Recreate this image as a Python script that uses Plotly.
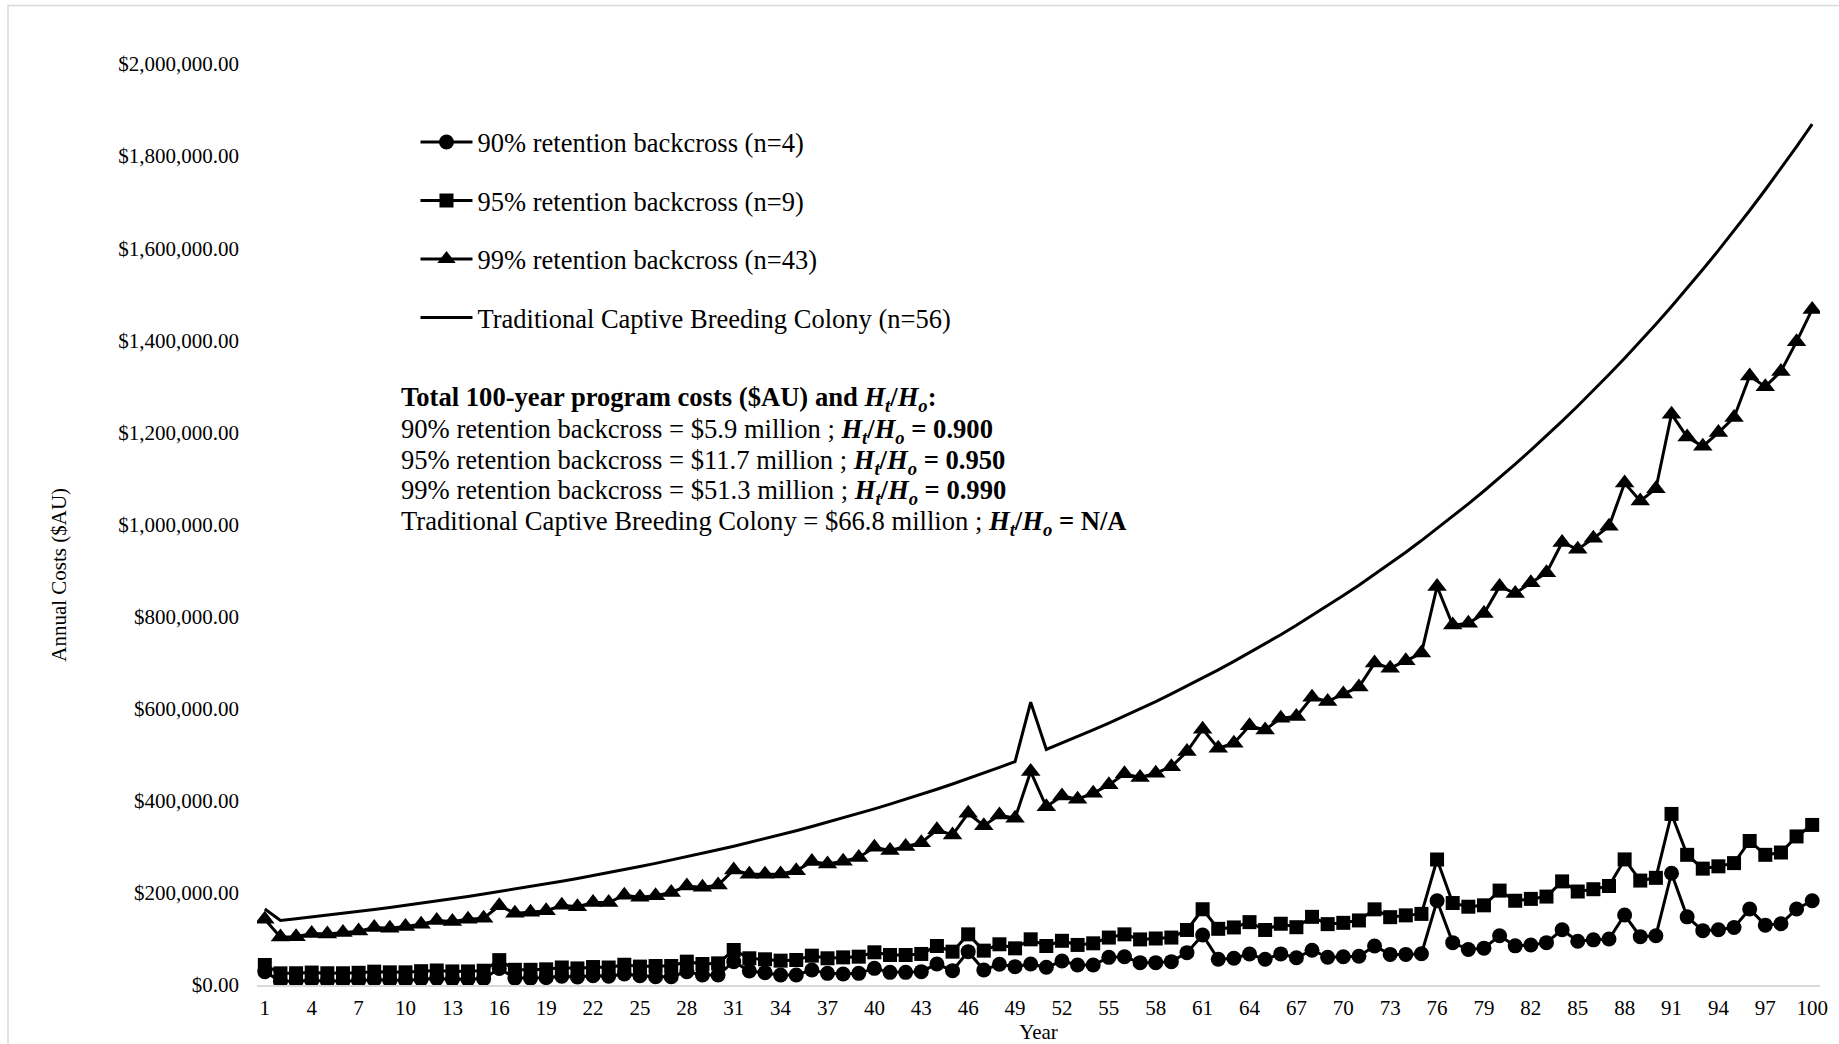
import plotly.graph_objects as go

# Program year (category axis)
years = list(range(1, 101))

# Annual cost per program (AUD)
cost_90 = [
    29000, 8000, 8500, 10000, 8500, 8500, 9500, 11500, 10000, 10000,
    12500, 14000, 12000, 12000, 13500, 36000, 15000, 15000, 16000, 19000,
    17500, 20000, 19000, 24000, 20000, 18000, 18000, 29000, 21700, 21700,
    50700, 30400, 26800, 21700, 21700, 32600, 25300, 23900, 25300, 36200,
    27500, 27500, 29000, 45600, 31200, 72400, 32600, 44900, 39800, 45600,
    38400, 52100, 43500, 43500, 60000, 61500, 48500, 48500, 50700, 70300,
    108600, 55800, 58000, 67400, 55800, 67500, 59200, 75600, 60200, 61200,
    62400, 84600, 66400, 66400, 67700, 183000, 92000, 77000, 80000, 107000,
    85000, 87000, 92000, 120000, 95000, 98000, 100000, 152000, 105000, 107000,
    242700, 148000, 118000, 120000, 125000, 165000, 130000, 133000, 165000, 183000,
]

cost_95 = [
    43500, 25300, 25500, 27000, 25500, 25500, 26500, 29000, 27500, 27500,
    30000, 31500, 29500, 29500, 31000, 54000, 33000, 33000, 34000, 38000,
    36000, 39000, 38000, 44000, 40000, 41300, 41300, 50700, 45600, 47000,
    76000, 58000, 55800, 52900, 54300, 63700, 58000, 60000, 61500, 71000,
    65200, 65200, 67400, 84700, 72400, 110000, 74600, 88400, 79600, 99200,
    84700, 96000, 87000, 90500, 103000, 110000, 99000, 101000, 103000, 119500,
    164500, 122000, 125000, 136500, 119500, 133000, 125500, 148000, 132200, 135000,
    140200, 164300, 147300, 151200, 154400, 272500, 178000, 170000, 173000, 205000,
    183000, 187000, 192000, 225000, 203000, 208000, 215000, 272700, 226800, 232700,
    371500, 282700, 252700, 257700, 264700, 312700, 282700, 287700, 322600, 347600,
]

cost_99 = [
    143000, 104000, 105000, 112000, 111000, 114000, 117000, 125000, 123000, 127000,
    132000, 140000, 138000, 143000, 145000, 172000, 156000, 158000, 161000, 173000,
    170000, 179000, 179000, 195000, 190500, 194000, 201000, 215000, 212000, 217000,
    250000, 240500, 240500, 241000, 248000, 268000, 263000, 269000, 277000, 299000,
    292000, 300500, 309000, 337000, 326000, 373000, 346000, 369000, 362000, 463500,
    387000, 410600, 403500, 416500, 434600, 458500, 450500, 460000, 474000, 507000,
    555600, 514000, 525000, 562800, 554000, 579500, 583000, 625000, 615600, 632000,
    647000, 699000, 688000, 704000, 720700, 865400, 781500, 785500, 806600, 865400,
    850400, 873500, 895000, 961000, 946000, 970000, 996000, 1089900, 1051000, 1077700,
    1239600, 1190000, 1169700, 1199600, 1232400, 1322400, 1299300, 1332400, 1397000, 1467000,
]

cost_colony = [
    165000, 140000, 143800, 147600, 151600, 155600, 159800, 164100, 168500, 173000,
    177600, 182400, 187300, 192300, 197400, 202700, 208200, 213700, 219500, 225300,
    231400, 237600, 244000, 250500, 257200, 264100, 271200, 278400, 285900, 293600,
    301400, 309500, 317800, 326300, 335100, 344100, 353300, 362700, 372500, 382400,
    392700, 403200, 414000, 425100, 436500, 448200, 460200, 472600, 485200, 614000,
    511600, 525300, 539400, 553800, 568700, 583900, 599600, 615600, 632100, 649100,
    666500, 684300, 702700, 721500, 740800, 760700, 781100, 802000, 823500, 845600,
    868200, 891500, 915400, 939900, 965100, 991000, 1017500, 1044800, 1072800, 1101600,
    1131100, 1161400, 1192500, 1224500, 1257300, 1291000, 1325600, 1361100, 1397600, 1435100,
    1473500, 1513000, 1553600, 1595200, 1637900, 1681800, 1726900, 1773200, 1820700, 1869500,
]

series_names = [
    "90% retention backcross (n=4)",
    "95% retention backcross (n=9)",
    "99% retention backcross (n=43)",
    "Traditional Captive Breeding Colony (n=56)",
]

x_ticks = list(range(1, 101, 3))
y_ticks = list(range(0, 2000001, 200000))

FONT = "Liberation Serif, Times New Roman, serif"
INK = "#000000"

fig = go.Figure()

marker_styles = [
    ("circle", 15, cost_90),
    ("square", 14, cost_95),
    ("triangle-up", 17, cost_99),
]
for i, (sym, size, vals) in enumerate(marker_styles):
    fig.add_trace(go.Scatter(
        x=years, y=vals, name=series_names[i], mode="lines+markers",
        line=dict(color=INK, width=3),
        marker=dict(symbol=sym, size=size, color=INK, line=dict(width=0)),
        legendgroup=f"g{i}",
    ))

fig.add_trace(go.Scatter(
    x=years, y=cost_colony, name=series_names[3], mode="lines",
    line=dict(color=INK, width=3), legendgroup="g3",
))

# Summary block of total program costs
summary_lines = [
    "<b>Total 100-year program costs ($AU) and <i>H<sub>t</sub></i>/<i>H<sub>o</sub></i>:</b>",
    "90% retention backcross = $5.9 million ; <b><i>H<sub>t</sub></i>/<i>H<sub>o</sub></i> = 0.900</b>",
    "95% retention backcross = $11.7 million ; <b><i>H<sub>t</sub></i>/<i>H<sub>o</sub></i> = 0.950</b>",
    "99% retention backcross = $51.3 million ; <b><i>H<sub>t</sub></i>/<i>H<sub>o</sub></i> = 0.990</b>",
    "Traditional Captive Breeding Colony = $66.8 million ; <b><i>H<sub>t</sub></i>/<i>H<sub>o</sub></i> = N/A</b>",
]
line_y = [0.636, 0.602, 0.568, 0.535, 0.502]
for txt, yy in zip(summary_lines, line_y):
    fig.add_annotation(
        text=txt, xref="paper", yref="paper", x=0.0909, y=yy,
        xanchor="left", yanchor="middle", showarrow=False, align="left",
        font=dict(family=FONT, size=26.6, color=INK),
    )

# Y-axis title
fig.add_annotation(
    text="Annual Costs ($AU)", xref="paper", yref="paper",
    x=-0.1267, y=0.4454, textangle=-90, showarrow=False,
    xanchor="center", yanchor="middle",
    font=dict(family=FONT, size=21, color=INK),
)

# Chart-area frame
fig.add_shape(
    type="rect", xref="paper", yref="paper",
    x0=-0.1593, y0=-0.2, x1=1.1, y1=1.0636,
    line=dict(color="#d9d9d9", width=1.5), fillcolor="rgba(0,0,0,0)", layer="below",
)

fig.update_layout(
    width=1839, height=1044,
    margin=dict(l=257, r=19, t=64, b=59),
    paper_bgcolor="white", plot_bgcolor="white",
    font=dict(family=FONT, color=INK),
    showlegend=True,
    legend=dict(
        x=0.1014, y=0.941, xanchor="left", yanchor="top",
        bgcolor="rgba(0,0,0,0)", borderwidth=0,
        font=dict(family=FONT, size=26.5, color=INK),
        itemwidth=52, tracegroupgap=21,
    ),
    xaxis=dict(
        range=[0.5, 100.5], tickmode="array", tickvals=x_ticks,
        ticktext=[str(v) for v in x_ticks],
        showgrid=False, zeroline=False,
        showline=True, linecolor="#d9d9d9", linewidth=2,
        ticks="", tickfont=dict(family=FONT, size=21, color=INK),
        ticklabelstandoff=3,
        title=dict(text="Year", font=dict(family=FONT, size=21, color=INK), standoff=2),
        automargin=False,
    ),
    yaxis=dict(
        range=[0, 2000000], tickmode="array", tickvals=y_ticks,
        tickformat="$,.2f", showgrid=False, zeroline=False, showline=False,
        ticks="", tickfont=dict(family=FONT, size=21, color=INK),
        ticklabelstandoff=17, automargin=False,
    ),
)

fig.write_html("out.html")
